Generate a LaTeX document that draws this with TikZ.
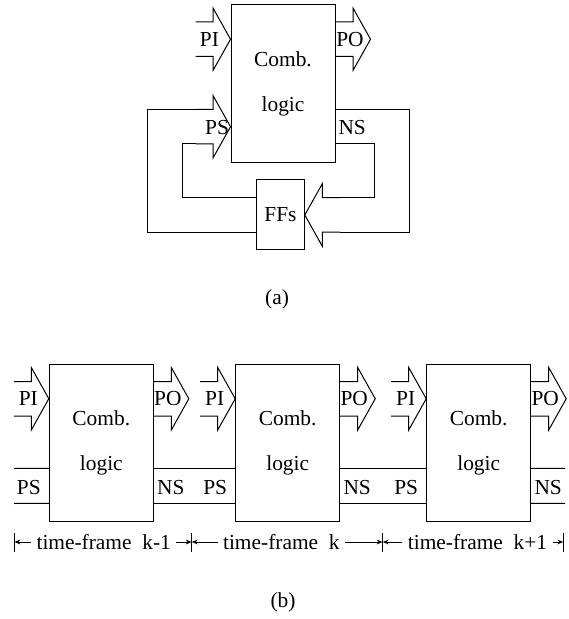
\documentclass[tikz,border=0pt]{standalone}
\usepackage{fontspec}
\setmainfont{Liberation Serif}
\usetikzlibrary{arrows.meta, calc}

\begin{document}
\begin{tikzpicture}[
    x=0.5pt, y=-0.5pt, line width=0.5pt,
    font=\fontsize{10.7}{13}\selectfont,
    comb/.style={draw, minimum width=52pt, minimum height=78.75pt,
                 align=center, inner sep=0pt},
    ffbox/.style={draw, minimum width=23.8pt, minimum height=35pt},
    tf/.style={inner sep=2.5pt},
    tfarr/.style={-{Stealth[length=3pt, width=2.4pt]}},
    bus/.pic={
        \draw (-35,-17.25) -- (-17.5,-17.25) -- (-17.5,-31.25) -- (0,0)
              -- (-17.5,31.25) -- (-17.5,17.25) -- (-35,17.25);
        \coordinate (-t) at (-35,-17.25);
        \coordinate (-b) at (-35,17.25);
    }
]
\useasboundingbox (0,0) rectangle (568,619);

% ---- (a): sequential circuit ----
\node[comb] (comb) at (283,83.5) {Comb.\\[9.5pt]logic};
\node[ffbox] (ffs) at (280.5,215) {FFs};

\pic (pia) at ($(comb.north west)+(0,35)$) {bus};
\pic (poa) at ($(comb.north east)+(35,35)$) {bus};
\pic (psa) at ($(comb.north west)+(0,122.5)$) {bus};
\pic[rotate=180] (ffin) at (ffs.east) {bus};

\node (pila) at ($(comb.north west)+(-21,35)$) {PI};
\node (pola) at ($(comb.north east)+(14.5,35)$) {PO};
\node (psla) at ($(comb.north west)+(-13.5,123.5)$) {PS};
\node (nsla) at ($(comb.north east)+(16.7,123.5)$) {NS};

% feedback loops
\draw (psa-t) -- ++(-48,0) |- ($(ffs.west)+(0,17.25)$);
\draw (psa-b) -- ++(-13,0) |- ($(ffs.west)+(0,-17.25)$);
\draw ($(comb.north east)+(0,105.25)$) -- ++(74,0) |- (ffin-t);
\draw ($(comb.north east)+(0,139.75)$) -- ++(39,0) |- (ffin-b);

\node (capa) at (277,299) {(a)};

% ---- (b): unrolled time-frames ----
\foreach \i/\x in {1/101.3, 2/287.7, 3/478.7} {
    \node[comb] (c\i) at (\x,443) {Comb.\\[9.5pt]logic};
    \pic (pi\i) at ($(c\i.north west)+(0,35)$) {bus};
    \pic (po\i) at ($(c\i.north east)+(35,35)$) {bus};
    \node (pil\i) at ($(c\i.north west)+(-20.5,35)$) {PI};
    \node (pol\i) at ($(c\i.north east)+(14,35)$) {PO};
    \node (psl\i) at ($(c\i.north west)+(-20,123.5)$) {PS};
    \node (nsl\i) at ($(c\i.north east)+(17,123.5)$) {NS};
    \coordinate (cin\i) at ($(c\i.north west)+(0,122)$);
    \coordinate (cout\i) at ($(c\i.north east)+(0,122)$);
}
\coordinate (bin) at (14,486);
\coordinate (bout) at (565,486);

\foreach \a/\b in {bin/cin1, cout1/cin2, cout2/cin3, cout3/bout}
    \foreach \s in {-17.5, 17.5}
        \draw ($(\a)+(0,\s)$) -- ($(\b)+(0,\s)$);

% time-frame ruler
\coordinate (t0) at (14.3,542);
\coordinate (t1) at (191.7,542);
\coordinate (t2) at (382.7,542);
\coordinate (t3) at (563.3,542);
\foreach \t in {t0, t1, t2, t3}
    \draw ($(\t)+(0,-9)$) -- ($(\t)+(0,10)$);

\node[tf] (tf1) at (103.7,542) {time-frame~~k-1};
\node[tf] (tf2) at (281.3,542) {time-frame~~k};
\node[tf] (tf3) at (477.5,542) {time-frame~~k+1};

\draw[tfarr] (tf1) -- (t0);
\draw[tfarr] (tf1) -- (t1);
\draw[tfarr] (tf2) -- (t1);
\draw[tfarr] (tf2) -- (t2);
\draw[tfarr] (tf3) -- (t2);
\draw[tfarr] (tf3) -- (t3);

\node (capb) at (283,602.5) {(b)};

\end{tikzpicture}
\end{document}
